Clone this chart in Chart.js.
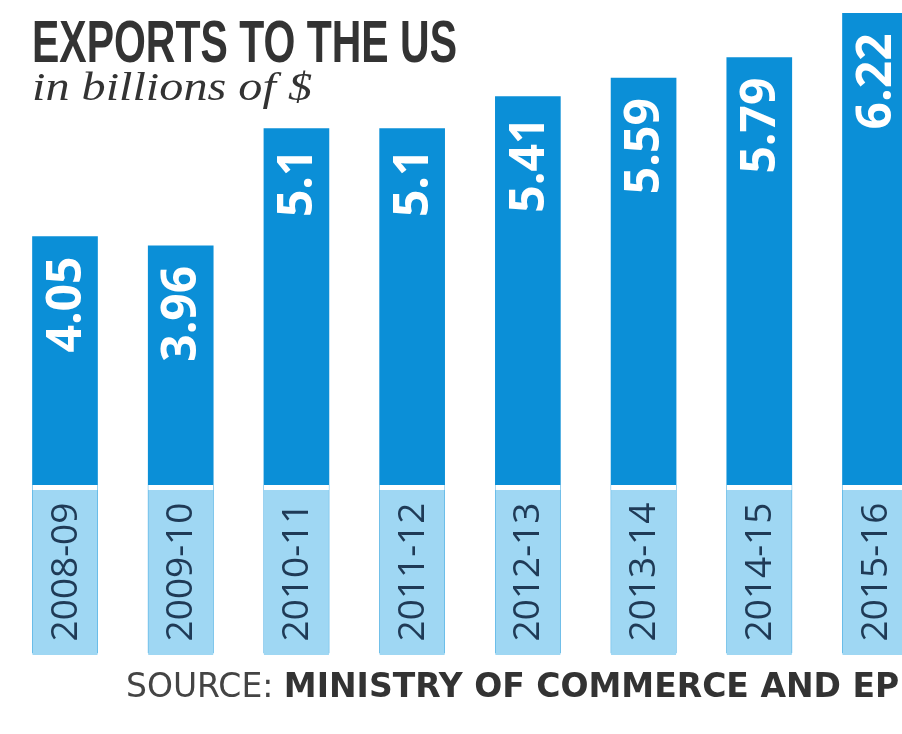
<!DOCTYPE html>
<html>
<head>
<meta charset="utf-8">
<script src="https://cdn.jsdelivr.net/npm/chart.js@4.4.1/dist/chart.umd.min.js"></script>
<style>
  html, body { margin: 0; padding: 0; background: #fff; }
  #wrap { width: 902px; height: 734px; position: relative; }
</style>
</head>
<body>
<div id="wrap"><canvas id="chart"></canvas></div>
<script>
// Chart data
const years = ["2008-09", "2009-10", "2010-11", "2011-12", "2012-13", "2013-14", "2014-15", "2015-16"];
const exportValues = [4.05, 3.96, 5.1, 5.1, 5.41, 5.59, 5.79, 6.22];
const valueLabels = ["4.05", "3.96", "5.1", "5.1", "5.41", "5.59", "5.79", "6.22"];

const titleText = "EXPORTS TO THE US";
const subtitleText = "in billions of $";
const sourceLabel = "SOURCE: ";
const sourceName = "MINISTRY OF COMMERCE AND EPB";

const barBlue = "#0b8fd7";
const boxBlue = "#9fd7f3";
const yearInk = "#1f3a56";
const titleInk = "#333333";

// fits text to a given width by stretching or squeezing it sideways
function drawFitted(ctx, text, x, y, width) {
  const natural = ctx.measureText(text).width;
  ctx.save();
  ctx.translate(x, y);
  ctx.scale(width / natural, 1);
  ctx.fillText(text, 0, 0);
  ctx.restore();
}

// Draws the value labels, the year boxes and the texts
const decorPlugin = {
  id: "decor",
  afterDatasetsDraw(chart) {
    const ctx = chart.ctx;
    const bars = chart.getDatasetMeta(0).data;

    bars.forEach((bar, i) => {
      const left = bar.x - bar.width / 2;

      // white gap and light blue year box over the foot of the bar
      ctx.fillStyle = "#ffffff";
      ctx.fillRect(left, 485, bar.width, 5);
      ctx.fillStyle = boxBlue;
      ctx.fillRect(left, 490, bar.width, 165);

      // value label, reading upwards, near the top
      ctx.save();
      ctx.translate(bar.x + 2, bar.y + 20);
      ctx.rotate(-Math.PI / 2);
      ctx.fillStyle = "#ffffff";
      ctx.font = "bold 48px 'Open Sans', 'Liberation Sans', sans-serif";
      ctx.textAlign = "right";
      ctx.textBaseline = "middle";
      ctx.fillText(valueLabels[i], 0, 0);
      ctx.restore();

      // year label
      ctx.save();
      ctx.translate(bar.x + 1, 572);
      ctx.rotate(-Math.PI / 2);
      ctx.fillStyle = yearInk;
      ctx.font = "37px 'Open Sans', 'Liberation Sans', sans-serif";
      ctx.textAlign = "center";
      ctx.textBaseline = "middle";
      ctx.fillText(years[i], 0, 0);
      ctx.restore();
    });
  },
  afterDraw(chart) {
    const ctx = chart.ctx;
    ctx.save();
    ctx.textAlign = "left";
    ctx.textBaseline = "alphabetic";

    // title, squeezed to look condensed
    ctx.fillStyle = titleInk;
    ctx.font = "bold 60px 'Liberation Sans', sans-serif";
    drawFitted(ctx, titleText, 32, 62, 425);

    ctx.font = "italic 41px 'Liberation Serif', serif";
    drawFitted(ctx, subtitleText, 32, 100, 280);

    // source line
    ctx.font = "33px 'DejaVu Sans', sans-serif";
    ctx.fillStyle = "#444444";
    ctx.fillText(sourceLabel, 126, 697);
    const w = ctx.measureText(sourceLabel).width;
    ctx.font = "bold 33px 'DejaVu Sans', sans-serif";
    ctx.fillStyle = titleInk;
    ctx.fillText(sourceName, 126 + w, 697);
    ctx.restore();
  }
};

new Chart(document.getElementById("chart"), {
  type: "bar",
  data: {
    labels: years,
    datasets: [{
      label: "Exports",
      data: exportValues,
      backgroundColor: barBlue,
      borderWidth: 0,
      barThickness: 65,
      clip: false
    }]
  },
  options: {
    responsive: true,
    maintainAspectRatio: false,
    animation: false,
    layout: {
      padding: { left: 65, right: 27, top: 0, bottom: 81 }
    },
    plugins: {
      legend: { display: false },
      tooltip: { enabled: false }
    },
    scales: {
      x: {
        display: false,
        offset: false,
        grid: { offset: false }
      },
      y: {
        display: false,
        min: 0,
        max: 6.35
      }
    }
  },
  plugins: [decorPlugin]
});
</script>
</body>
</html>
